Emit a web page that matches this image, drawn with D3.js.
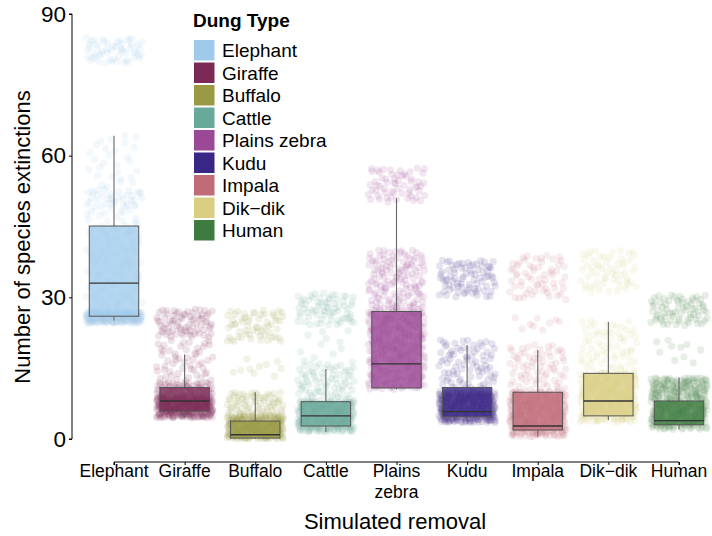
<!DOCTYPE html>
<html><head><meta charset="utf-8">
<script src="https://cdn.jsdelivr.net/npm/d3@7"></script>
<style>
html,body{margin:0;padding:0;background:#fff;}
svg{display:block;font-family:"Liberation Sans",Arial,Helvetica,sans-serif;}
</style></head>
<body><svg id="chart" width="712" height="536"></svg>
<script>
// ---- data ----
const categories = ["Elephant","Giraffe","Buffalo","Cattle","Plains zebra","Kudu","Impala","Dik-dik","Human"];
const tickLabels = ["Elephant","Giraffe","Buffalo","Cattle","Plains\nzebra","Kudu","Impala","Dik\u2212dik","Human"];
const legendLabels = ["Elephant","Giraffe","Buffalo","Cattle","Plains zebra","Kudu","Impala","Dik\u2212dik","Human"];
const colors = ["#9fcaea","#7a2a55","#9a9a45","#69a99a","#9b4896","#3a2785","#c06c78","#d9cd82","#3d7b40"];
const whiskerLow  = [25.1, 4.5, 0.0, 1.5, 10.5, 3.5, 0.5, 4.0, 2.0];
const q1          = [26.0, 5.9, 0.2, 2.75,10.8, 4.7, 1.9, 4.9, 3.0];
const median      = [33.0, 8.05,0.9, 4.9, 15.9, 5.8, 2.75,8.05,3.9];
const q3          = [45.1,10.9, 3.8, 7.9, 27.0,10.9, 9.9,13.9, 8.05];
const whiskerHigh = [64.2,17.9, 9.9,14.8, 51.0,19.9,18.8,24.8,13.0];
const yTicks = [0, 30, 60, 90];
// jittered point clouds: [low value, high value, approx. number of points]
const pointBands = [
  [[79.5,85,55],[52,64.5,30],[49,53,35],[27,49,90],[24.5,27,230]],
  [[21.5,27.5,75],[12,21,55],[9,12,70],[4.5,9,300]],
  [[20.5,27.5,60],[13,17,10],[5,10,70],[0,5,300]],
  [[24,31,70],[16,23,12],[8,16,75],[1.5,8,300]],
  [[50,57.5,60],[28,40,130],[10.5,28,330]],
  [[30,38,80],[10,21,85],[3.5,10,350]],
  [[29.5,39,60],[23,26,9],[10,20,70],[0.5,10,350]],
  [[31,40,60],[14,25,70],[3.5,14,300]],
  [[24,30.5,70],[16,21.5,10],[2,13,330]]
];

// ---- drawing ----
const svg = d3.select("#chart");
const x = d3.scalePoint().domain(categories).range([114, 679]);
const step = x.step();
const y = d3.scaleLinear().domain([0, 90]).range([439, 14]);
const boxW = step * 0.7;
const jitterW = step * 0.4;

function halton(i, b){ let f = 1, r = 0; while(i > 0){ f /= b; r += f * (i % b); i = Math.floor(i / b);} return r; }

// points (deterministic low-discrepancy jitter inside each band)
const pts = [];
categories.forEach((c, ci) => {
  let k = 11 + ci * 997;
  pointBands[ci].forEach(([lo, hi, n]) => {
    for (let j = 0; j < n; j++, k++) {
      const idx = (k * 7919) % 1000003;
      pts.push({c, ci, dx: (halton(idx, 2) - 0.5) * 2 * jitterW, v: lo + halton(idx, 3) * (hi - lo)});
    }
  });
});
svg.append("g").selectAll("circle").data(pts).join("circle")
  .attr("cx", d => x(d.c) + d.dx)
  .attr("cy", d => y(d.v))
  .attr("r", 3.6)
  .attr("fill", d => colors[d.ci])
  .attr("fill-opacity", 0.13);

// boxes
const boxes = svg.append("g").selectAll("g").data(categories).join("g");
boxes.append("line")
  .attr("x1", c => x(c)).attr("x2", c => x(c))
  .attr("y1", (c, i) => y(q3[i])).attr("y2", (c, i) => y(whiskerHigh[i]))
  .attr("stroke", "#666").attr("stroke-width", 1.1);
boxes.append("line")
  .attr("x1", c => x(c)).attr("x2", c => x(c))
  .attr("y1", (c, i) => y(q1[i])).attr("y2", (c, i) => y(whiskerLow[i]))
  .attr("stroke", "#666").attr("stroke-width", 1.1);
boxes.append("rect")
  .attr("x", c => x(c) - boxW / 2).attr("width", boxW)
  .attr("y", (c, i) => y(q3[i])).attr("height", (c, i) => y(q1[i]) - y(q3[i]))
  .attr("fill", (c, i) => colors[i]).attr("fill-opacity", 0.78)
  .attr("stroke", "#555").attr("stroke-width", 1);
boxes.append("line")
  .attr("x1", c => x(c) - boxW / 2).attr("x2", c => x(c) + boxW / 2)
  .attr("y1", (c, i) => y(median[i])).attr("y2", (c, i) => y(median[i]))
  .attr("stroke", "#333").attr("stroke-width", 1.3);

// y axis
const yAxis = svg.append("g").attr("transform", "translate(72,0)")
  .call(d3.axisLeft(y).tickValues(yTicks).tickSize(3).tickPadding(3));
yAxis.select(".domain").attr("d", `M-3,${y(0)}H0V${y(90)}H-3`).attr("stroke", "#000");
yAxis.selectAll("text").attr("font-size", 22.5).attr("fill", "#000").attr("font-family", "Liberation Sans, Arial, sans-serif");
yAxis.selectAll(".tick line").attr("stroke", "#000");

// x axis
const xAxis = svg.append("g").attr("transform", "translate(0,462)")
  .call(d3.axisBottom(x).tickSize(3).tickFormat(""));
xAxis.select(".domain").attr("d", `M${x(categories[0])},3V0H${x(categories[8])}V3`).attr("stroke", "#000");
xAxis.selectAll(".tick line").attr("stroke", "#000");
const xl = svg.append("g").selectAll("text").data(categories).join("text")
  .attr("x", c => x(c)).attr("y", 477)
  .attr("text-anchor", "middle").attr("font-size", 17.5).attr("fill", "#000");
xl.each(function(c, i){
  const lines = tickLabels[i].split("\n");
  d3.select(this).selectAll("tspan").data(lines).join("tspan")
    .attr("x", x(c)).attr("dy", (d, j) => j === 0 ? 0 : 21).text(d => d);
});

// axis titles
svg.append("text").attr("x", 395).attr("y", 529).attr("text-anchor", "middle")
  .attr("font-size", 22).attr("fill", "#000").text("Simulated removal");
svg.append("text").attr("transform", "translate(30,237) rotate(-90)").attr("text-anchor", "middle")
  .attr("font-size", 22).attr("fill", "#000").text("Number of species extinctions");

// legend
const lg = svg.append("g");
lg.append("text").attr("x", 193).attr("y", 27).attr("font-size", 19).attr("font-weight", "bold")
  .attr("fill", "#000").text("Dung Type");
const keyStep = 22.5;
const items = lg.selectAll("g.item").data(legendLabels).join("g").attr("class", "item")
  .attr("transform", (d, i) => `translate(193.5,${39.5 + i * keyStep})`);
items.append("rect").attr("width", 21.5).attr("height", 21.5)
  .attr("fill", (d, i) => colors[i]).attr("stroke", "#fff").attr("stroke-width", 1);
items.append("text").attr("x", 28.5).attr("y", 17.5).attr("font-size", 19).attr("fill", "#000").text(d => d);
</script></body></html>
